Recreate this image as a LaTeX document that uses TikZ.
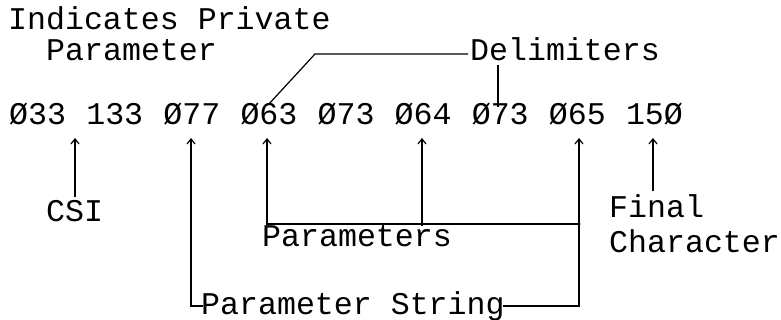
\documentclass[tikz,border=0pt]{standalone}
\usepackage{fontspec}
\setmainfont{Liberation Mono}
\usetikzlibrary{arrows.meta}
\begin{document}
\begin{tikzpicture}[x=1pt,y=-1pt,
  lbl/.style={inner sep=0pt, anchor=base west, font=\fontsize{31.6}{36}\selectfont},
  ln/.style={line width=1.2pt},
  arr/.style={ln, -{Straight Barb[length=5pt,width=8pt,line width=1.2pt]}}]
\useasboundingbox (0,0) rectangle (781,320);
% labels
\node[lbl] (ind) at (8,30) {Indicates Private};
\node[lbl] (ipp) at (46,61) {Parameter};
\node[lbl] (delim) at (470,61) {Delimiters};
\node[lbl] (csi) at (46,222) {CSI};
\node[lbl] (params) at (262,247) {Parameters};
\node[lbl] (final) at (609,218) {Final};
\node[lbl] (finchar) at (609,252) {Character};
\node[lbl] (pstr) at (201,314) {Parameter String};
% number row
\foreach \t [count=\i from 0] in {Ø33,133,Ø77,Ø63,Ø73,Ø64,Ø73,Ø65,15Ø}
  \node[lbl] (t\i) at (9+77.1*\i,125) {\t};
% coordinates
\coordinate (tipcsi) at (75,138);
\coordinate (tip77) at (191,138);
\coordinate (tip63) at (267,138);
\coordinate (tip64) at (422,138);
\coordinate (tip65) at (579,138);
\coordinate (tip150) at (653,138);
\coordinate (hbar) at (579,224);
\coordinate (dbend) at (315,54);
\coordinate (dend) at (268,105);
\coordinate (dtop) at (498,65);
\coordinate (dbot) at (498,107);
% delimiters
\draw[ln] ([xshift=-2pt]delim.west |- dbend) -- (dbend) -- (dend);
\draw[ln] (dtop) -- (dbot);
% arrows
\draw[arr] (csi.north -| tipcsi) ++(0,-4) -- (tipcsi);
\draw[arr] (final.north -| tip150) ++(0,-4) -- (tip150);
\draw[arr] (params.north -| tip64) -- (tip64);
\draw[arr] (hbar) -| (tip63);
\draw[arr] ([xshift=-2pt]pstr.east |- 0,306) -- (579,306) -- (tip65);
\draw[arr] ([xshift=2pt]pstr.west |- 0,306) -- (191,306) -- (tip77);
\fill (hbar) circle (1.6pt);
\end{tikzpicture}
\end{document}
